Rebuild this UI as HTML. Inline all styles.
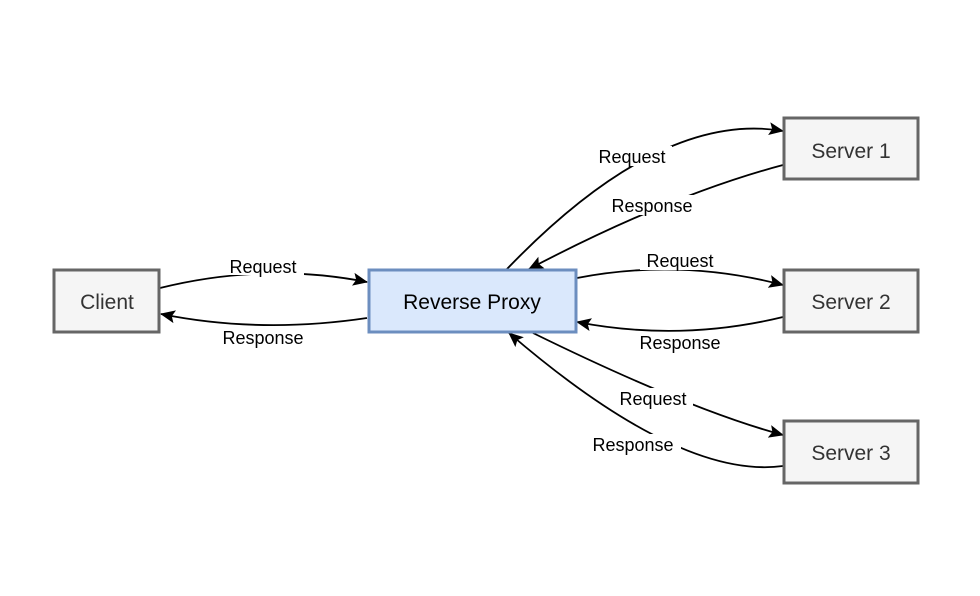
<!DOCTYPE html>
<html><head><style>
body{margin:0;background:#fff;}
svg text{font-family:"Liberation Sans",sans-serif;}
</style></head><body>
<svg width="980" height="591" viewBox="0 0 980 591">
<defs><marker id="a" markerWidth="16" markerHeight="14" refX="14" refY="7" orient="auto" markerUnits="userSpaceOnUse"><path d="M0,0.5 L15,7 L0,13.5 L3,7Z" fill="#000"/></marker></defs>
<g fill="none" stroke="#000" stroke-width="1.8" marker-end="url(#a)">
<path d="M160,288 Q265,262 367,282"/>
<path d="M367,318 Q260,334 161,314"/>
<path d="M507,269 Q660,110 783,131"/>
<path d="M783,165 Q670,195 529,269"/>
<path d="M577,278 Q680,258 783,285"/>
<path d="M783,317 Q680,342 577,322"/>
<path d="M533,333 Q690,410 783,435"/>
<path d="M783,466 Q680,480 509,333"/>
</g>
<g font-size="18" text-anchor="middle" fill="#000">
<rect x="222" y="255" width="82" height="20" fill="#fff"/><text x="263" y="273">Request</text>
<rect x="216" y="328" width="96" height="20" fill="#fff"/><text x="263" y="344">Response</text>
<rect x="592" y="146" width="80" height="20" fill="#fff"/><text x="632" y="163">Request</text>
<rect x="604" y="195" width="96" height="20" fill="#fff"/><text x="652" y="212">Response</text>
<rect x="640" y="250" width="80" height="20" fill="#fff"/><text x="680" y="267">Request</text>
<rect x="632" y="332" width="96" height="20" fill="#fff"/><text x="680" y="349">Response</text>
<rect x="613" y="388" width="80" height="20" fill="#fff"/><text x="653" y="405">Request</text>
<rect x="585" y="434" width="96" height="20" fill="#fff"/><text x="633" y="451">Response</text>
</g>
<g stroke-width="3">
<rect x="54" y="270" width="105" height="62" fill="#f5f5f5" stroke="#666"/>
<rect x="369" y="270" width="207" height="62" fill="#dae8fc" stroke="#6c8ebf"/>
<rect x="784" y="118" width="134" height="61" fill="#f5f5f5" stroke="#666"/>
<rect x="784" y="270" width="134" height="62" fill="#f5f5f5" stroke="#666"/>
<rect x="784" y="421" width="134" height="62" fill="#f5f5f5" stroke="#666"/>
</g>
<g font-size="21" text-anchor="middle" fill="#333">
<text x="107" y="309">Client</text>
<text x="472" y="309" fill="#000">Reverse Proxy</text>
<text x="851" y="158">Server 1</text>
<text x="851" y="309">Server 2</text>
<text x="851" y="460">Server 3</text>
</g>
</svg>
</body></html>
